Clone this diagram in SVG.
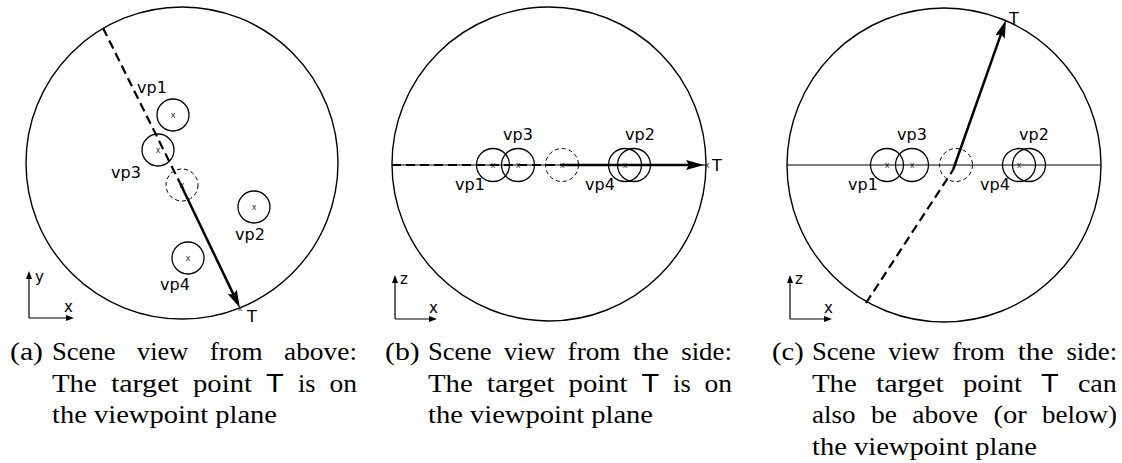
<svg xmlns="http://www.w3.org/2000/svg" width="1122" height="463" viewBox="0 0 1122 463">
<style>
.frame{fill:none;stroke:#000;stroke-width:1.4}
.vp{fill:none;stroke:#000;stroke-width:1.3}
.dc{fill:none;stroke:#000;stroke-width:1;stroke-dasharray:4 3}
.lbl{font-family:"DejaVu Sans",sans-serif;font-size:16px;fill:#000}
.mk{font-family:"DejaVu Sans",sans-serif;font-size:8px;fill:#333;text-anchor:middle}
.ax{font-family:"DejaVu Sans",sans-serif;font-size:15px;fill:#000}
.cap{font-family:"Liberation Serif",serif;font-size:26px;fill:#000}
.sf{font-family:"Liberation Sans",sans-serif}
.base{stroke:#000;stroke-width:1.2;fill:none}
.dash{stroke:#000;stroke-width:2.2;stroke-dasharray:9 5;fill:none}
.dir{stroke:#000;stroke-width:2.5;fill:none;marker-end:url(#big)}
.axl{stroke:#000;stroke-width:1.2;fill:none;marker-end:url(#sm)}
</style>
<defs>
<marker id="big" markerUnits="userSpaceOnUse" markerWidth="20" markerHeight="12" refX="12" refY="5" orient="auto">
<path d="M0,0 L18,5 L0,10 L3,5 z" fill="#000"/>
</marker>
<marker id="sm" markerUnits="userSpaceOnUse" markerWidth="10" markerHeight="8" refX="2" refY="3" orient="auto">
<path d="M0,0 L8,3 L0,6 z" fill="#000"/>
</marker>
</defs>

<!-- Panel (a) -->
<g id="panel-a">
<circle class="frame" cx="182" cy="163" r="156"/>
<g id="a-vp1"><circle class="vp" cx="173" cy="115" r="16"/><text class="mk" x="173" y="118">x</text><text class="lbl" x="137" y="93">vp1</text></g>
<g id="a-vp3"><circle class="vp" cx="158" cy="150" r="16"/><text class="mk" x="158" y="153">x</text><text class="lbl" x="111" y="178">vp3</text></g>
<g id="a-center"><circle class="dc" cx="182" cy="185" r="16"/><text class="mk" x="182" y="188">x</text></g>
<g id="a-vp2"><circle class="vp" cx="254" cy="207" r="16"/><text class="mk" x="254" y="210">x</text><text class="lbl" x="235" y="240">vp2</text></g>
<g id="a-vp4"><circle class="vp" cx="188" cy="258" r="16"/><text class="mk" x="188" y="261">x</text><text class="lbl" x="160" y="290">vp4</text></g>
<g id="a-T"><text class="mk" x="240" y="311">x</text><text class="lbl" x="247" y="322">T</text></g>
<g id="a-axes"><line class="axl" x1="29" y1="318" x2="29" y2="277"/><line class="axl" x1="29" y1="318" x2="68" y2="318"/><text class="ax" x="35" y="282">y</text><text class="ax" x="64" y="312">x</text></g>
</g>

<!-- Panel (b) -->
<g id="panel-b">
<circle class="frame" cx="549" cy="164" r="157"/>
<g id="b-vp1"><circle class="vp" cx="493" cy="165" r="16.5"/><text class="mk" x="493" y="168">x</text><text class="lbl" x="455" y="190">vp1</text></g>
<g id="b-vp3"><circle class="vp" cx="518" cy="165" r="16.5"/><text class="mk" x="518" y="168">x</text><text class="lbl" x="503" y="140">vp3</text></g>
<g id="b-center"><circle class="dc" cx="562" cy="165" r="16.5"/><text class="mk" x="562" y="168">x</text></g>
<g id="b-vp4"><circle class="vp" cx="625" cy="165" r="16.5"/><text class="mk" x="625" y="168">x</text><text class="lbl" x="585" y="190">vp4</text></g>
<g id="b-vp2"><circle class="vp" cx="634" cy="165" r="16.5"/><text class="lbl" x="625" y="140">vp2</text></g>
<g id="b-T"><text class="mk" x="707" y="168">x</text><text class="lbl" x="712" y="171">T</text></g>
<g id="b-axes"><line class="axl" x1="395" y1="319" x2="395" y2="281"/><line class="axl" x1="395" y1="319" x2="431" y2="319"/><text class="ax" x="400" y="284">z</text><text class="ax" x="429" y="313">x</text></g>
</g>

<!-- Panel (c) -->
<g id="panel-c">
<circle class="frame" cx="944" cy="165" r="157"/>
<g id="c-vp1"><circle class="vp" cx="887" cy="165" r="16.5"/><text class="mk" x="887" y="168">x</text><text class="lbl" x="848" y="190">vp1</text></g>
<g id="c-vp3"><circle class="vp" cx="912" cy="165" r="16.5"/><text class="mk" x="912" y="168">x</text><text class="lbl" x="897" y="140">vp3</text></g>
<g id="c-center"><circle class="dc" cx="956" cy="165" r="16.5"/></g>
<g id="c-vp4"><circle class="vp" cx="1019" cy="165" r="16.5"/><text class="mk" x="1019" y="168">x</text><text class="lbl" x="980" y="190">vp4</text></g>
<g id="c-vp2"><circle class="vp" cx="1029" cy="165" r="16.5"/><text class="lbl" x="1019" y="140">vp2</text></g>
<g id="c-T"><text class="lbl" x="1009" y="24">T</text></g>
<g id="c-axes"><line class="axl" x1="790" y1="319" x2="790" y2="281"/><line class="axl" x1="790" y1="319" x2="826" y2="319"/><text class="ax" x="795" y="284">z</text><text class="ax" x="824" y="313">x</text></g>
</g>

<!-- Connectors -->
<g id="connectors">
<line class="dash" x1="103" y1="28" x2="180" y2="183"/>
<line class="dir" x1="180" y1="183" x2="237.4" y2="302.6"/>
<line class="base" x1="392" y1="165" x2="706" y2="165"/>
<line class="dash" x1="392" y1="165" x2="562" y2="165"/>
<line class="dir" x1="562" y1="165" x2="698" y2="165"/>
<line class="base" x1="787" y1="165" x2="1101" y2="165"/>
<line class="dash" x1="866" y1="303" x2="953" y2="170"/>
<line class="dir" x1="953" y1="170" x2="1004" y2="25.7"/>
</g>

<!-- Captions -->
<g id="caption-a" class="cap">
<text y="360"><tspan x="10" textLength="33" lengthAdjust="spacingAndGlyphs">(a)</tspan><tspan x="52" textLength="63.5" lengthAdjust="spacingAndGlyphs">Scene</tspan><tspan x="137" textLength="51.3" lengthAdjust="spacingAndGlyphs">view</tspan><tspan x="209.8" textLength="52.8" lengthAdjust="spacingAndGlyphs">from</tspan><tspan x="284" textLength="73" lengthAdjust="spacingAndGlyphs">above:</tspan></text>
<text y="392"><tspan x="52" textLength="44.8" lengthAdjust="spacingAndGlyphs">The</tspan><tspan x="110.9" textLength="68" lengthAdjust="spacingAndGlyphs">target</tspan><tspan x="193" textLength="59" lengthAdjust="spacingAndGlyphs">point</tspan><tspan x="266.1" class="sf" textLength="17.7" lengthAdjust="spacingAndGlyphs">T</tspan><tspan x="297.9" textLength="17.5" lengthAdjust="spacingAndGlyphs">is</tspan><tspan x="329.5" textLength="27.5" lengthAdjust="spacingAndGlyphs">on</tspan></text>
<text y="423" x="52" textLength="225" lengthAdjust="spacingAndGlyphs">the viewpoint plane</text>
</g>
<g id="caption-b" class="cap">
<text y="360"><tspan x="385" textLength="34.7" lengthAdjust="spacingAndGlyphs">(b)</tspan><tspan x="428" textLength="63.5" lengthAdjust="spacingAndGlyphs">Scene</tspan><tspan x="503.9" textLength="51.3" lengthAdjust="spacingAndGlyphs">view</tspan><tspan x="567.6" textLength="52.8" lengthAdjust="spacingAndGlyphs">from</tspan><tspan x="632.8" textLength="36" lengthAdjust="spacingAndGlyphs">the</tspan><tspan x="681.2" textLength="50.7" lengthAdjust="spacingAndGlyphs">side:</tspan></text>
<text y="392"><tspan x="428" textLength="44.8" lengthAdjust="spacingAndGlyphs">The</tspan><tspan x="486.7" textLength="68" lengthAdjust="spacingAndGlyphs">target</tspan><tspan x="568.6" textLength="59" lengthAdjust="spacingAndGlyphs">point</tspan><tspan x="641.5" class="sf" textLength="17.7" lengthAdjust="spacingAndGlyphs">T</tspan><tspan x="673.1" textLength="17.5" lengthAdjust="spacingAndGlyphs">is</tspan><tspan x="704.5" textLength="27.5" lengthAdjust="spacingAndGlyphs">on</tspan></text>
<text y="423" x="428" textLength="225" lengthAdjust="spacingAndGlyphs">the viewpoint plane</text>
</g>
<g id="caption-c" class="cap">
<text y="360"><tspan x="772" textLength="31.8" lengthAdjust="spacingAndGlyphs">(c)</tspan><tspan x="812" textLength="63.5" lengthAdjust="spacingAndGlyphs">Scene</tspan><tspan x="888.2" textLength="51.3" lengthAdjust="spacingAndGlyphs">view</tspan><tspan x="952.2" textLength="52.8" lengthAdjust="spacingAndGlyphs">from</tspan><tspan x="1017.7" textLength="36" lengthAdjust="spacingAndGlyphs">the</tspan><tspan x="1066.4" textLength="50.7" lengthAdjust="spacingAndGlyphs">side:</tspan></text>
<text y="392"><tspan x="812" textLength="44.8" lengthAdjust="spacingAndGlyphs">The</tspan><tspan x="875.9" textLength="68" lengthAdjust="spacingAndGlyphs">target</tspan><tspan x="963" textLength="59" lengthAdjust="spacingAndGlyphs">point</tspan><tspan x="1041.1" class="sf" textLength="17.7" lengthAdjust="spacingAndGlyphs">T</tspan><tspan x="1077.9" textLength="39" lengthAdjust="spacingAndGlyphs">can</tspan></text>
<text y="423"><tspan x="812" textLength="43.5" lengthAdjust="spacingAndGlyphs">also</tspan><tspan x="870.9" textLength="26" lengthAdjust="spacingAndGlyphs">be</tspan><tspan x="912.3" textLength="65.7" lengthAdjust="spacingAndGlyphs">above</tspan><tspan x="993.4" textLength="33.3" lengthAdjust="spacingAndGlyphs">(or</tspan><tspan x="1042.1" textLength="75" lengthAdjust="spacingAndGlyphs">below)</tspan></text>
<text y="455" x="812" textLength="225" lengthAdjust="spacingAndGlyphs">the viewpoint plane</text>
</g>
</svg>
